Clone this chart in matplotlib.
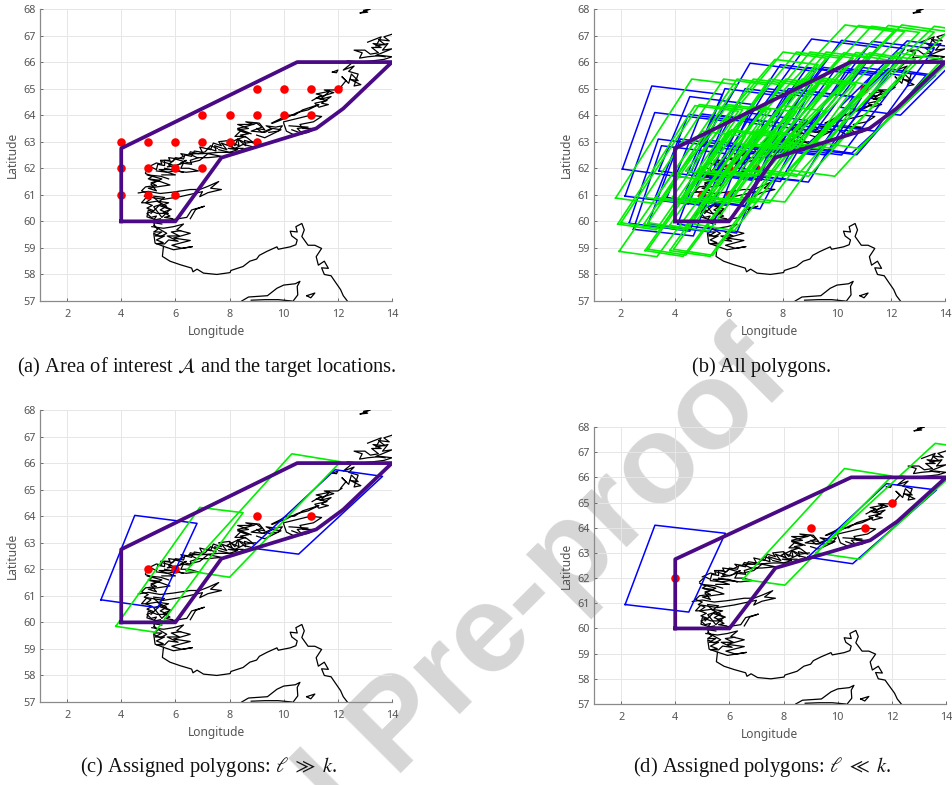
#!/usr/bin/env python3
"""Four map panels: area of interest, all polygons and two assignments."""
import matplotlib
matplotlib.use("Agg")
import matplotlib.pyplot as plt

plt.rcParams["font.family"] = ["Noto Sans", "DejaVu Sans"]
plt.rcParams["mathtext.fontset"] = "stix"

W, H = 952, 785

AREA_LON = [4, 4, 10.5, 14, 12.2, 11.2, 7.7, 6, 4]
AREA_LAT = [60, 62.75, 66, 66, 64.25, 63.5, 62.4, 60, 60]

TARGETS_A = [(9, 65), (10, 65), (11, 65), (12, 65), (7, 64), (8, 64), (9, 64), (10, 64), (11, 64),
             (4, 63), (5, 63), (6, 63), (7, 63), (8, 63), (9, 63), (4, 62), (5, 62), (6, 62), (7, 62),
             (4, 61), (5, 61), (6, 61)]
TARGETS_B = [(5, 63), (5, 61), (6, 61), (7, 62), (6, 62), (8, 63), (11, 65)]
TARGETS_C = [(5, 62), (6, 62), (9, 64), (11, 64)]
TARGETS_D = [(4, 62), (9, 64), (11, 64), (12, 65)]

# polygon corners: lower-left, upper-left, upper-right, lower-right
BLUE_C = [
    [(3.25, 60.85), (4.5, 64.03), (6.8, 63.73), (5.35, 60.55)],
    [(8.8, 62.8), (11.9, 65.75), (13.65, 65.5), (10.55, 62.57)],
]
GREEN_C = [
    [(3.8, 59.85), (6.9, 64.33), (8.5, 64.13), (5.25, 59.63)],
    [(6.4, 61.95), (10.3, 66.35), (12.1, 66.05), (8.0, 61.7)],
]
BLUE_D = [
    [(2.15, 60.95), (3.25, 64.1), (5.85, 63.78), (4.5, 60.65)],
    [(8.9, 62.83), (11.8, 65.75), (13.65, 65.5), (10.55, 62.57)],
]
GREEN_D = [
    [(6.5, 61.95), (10.25, 66.35), (12.0, 66.05), (8.05, 61.72)],
    [(9.2, 63.0), (13.6, 67.35), (15.25, 67.1), (10.8, 62.75)],
]
BLUE_ALL = [
    [(2.05, 61.97), (3.14, 65.1), (5.75, 64.78), (4.4, 61.65)],
    [(2.15, 60.95), (3.25, 64.1), (5.85, 63.78), (4.5, 60.65)],
    [(2.3, 59.93), (3.38, 63.1), (5.75, 62.8), (4.55, 59.63)],
    [(2.46, 59.7), (3.5, 62.85), (5.9, 62.55), (4.68, 59.45)],
    [(3.25, 60.85), (4.5, 64.03), (6.8, 63.73), (5.35, 60.55)],
    [(3.4, 61.9), (4.55, 64.7), (6.9, 64.4), (5.6, 61.6)],
    [(4.1, 59.9), (5.3, 63.05), (7.6, 62.75), (6.28, 59.56)],
    [(4.3, 60.9), (5.6, 64.0), (7.95, 63.7), (6.6, 60.6)],
    [(4.6, 61.85), (5.85, 65.0), (8.1, 64.7), (6.85, 61.55)],
    [(5.0, 60.8), (6.6, 64.1), (8.9, 63.8), (7.15, 60.47)],
    [(6.3, 61.8), (8.2, 65.0), (10.6, 64.7), (8.69, 61.53)],
    [(6.55, 61.75), (8.5, 64.95), (10.9, 64.65), (8.94, 61.48)],
    [(5.0, 62.85), (6.78, 65.96), (9.2, 65.65), (7.4, 62.55)],
    [(5.9, 62.85), (7.9, 65.9), (10.3, 65.6), (8.3, 62.55)],
    [(6.8, 62.8), (8.9, 65.8), (11.3, 65.5), (9.2, 62.5)],
    [(6.8, 63.7), (9.06, 66.87), (11.5, 66.55), (9.2, 63.4)],
    [(7.9, 63.7), (10.17, 66.82), (12.5, 66.5), (10.3, 63.4)],
    [(9.0, 63.7), (11.3, 66.78), (13.6, 66.5), (11.4, 63.4)],
    [(10.1, 64.3), (12.6, 66.8), (14.8, 66.5), (12.35, 64.0)],
    [(7.8, 62.8), (10.0, 65.8), (12.4, 65.5), (10.17, 62.5)],
    [(8.4, 62.8), (10.9, 65.8), (13.3, 65.5), (10.73, 62.51)],
    [(8.8, 62.8), (11.9, 65.75), (13.65, 65.5), (10.55, 62.57)],
    [(3.0, 59.9), (4.2, 63.1), (6.55, 62.8), (5.3, 59.6)],
    [(3.7, 60.9), (4.95, 64.05), (7.3, 63.75), (5.95, 60.6)],
    [(5.0, 61.85), (6.6, 65.0), (8.9, 64.7), (7.2, 61.55)],
    [(5.5, 61.8), (7.4, 65.0), (9.7, 64.7), (7.9, 61.5)],
    [(7.2, 62.8), (9.5, 65.8), (11.9, 65.5), (9.6, 62.5)],
]
GREEN_ALL = [
    [(1.93, 58.87), (5.0, 63.4), (6.6, 63.2), (3.33, 58.67)],
    [(2.89, 58.9), (6.0, 63.4), (7.6, 63.2), (4.3, 58.68)],
    [(3.81, 58.9), (6.9, 63.4), (8.5, 63.2), (5.3, 58.68)],
    [(1.88, 59.9), (4.74, 64.36), (6.35, 64.15), (3.3, 59.68)],
    [(2.85, 59.9), (5.8, 64.36), (7.4, 64.15), (4.3, 59.68)],
    [(3.8, 59.85), (6.9, 64.33), (8.5, 64.13), (5.25, 59.63)],
    [(4.7, 59.9), (8.0, 64.36), (9.6, 64.15), (6.2, 59.65)],
    [(1.8, 60.88), (4.62, 65.36), (6.3, 65.15), (3.4, 60.65)],
    [(2.9, 60.9), (5.8, 65.36), (7.4, 65.15), (4.4, 60.68)],
    [(3.9, 60.9), (6.9, 65.36), (8.5, 65.15), (5.4, 60.68)],
    [(4.9, 60.9), (8.1, 65.36), (9.7, 65.15), (6.5, 60.7)],
    [(6.45, 60.9), (9.5, 65.4), (11.2, 65.15), (8.07, 60.73)],
    [(4.4, 61.9), (8.0, 66.38), (9.6, 66.15), (6.0, 61.68)],
    [(5.4, 61.9), (9.0, 66.38), (10.6, 66.15), (7.0, 61.7)],
    [(6.45, 61.95), (10.25, 66.35), (12.05, 66.05), (8.03, 61.7)],
    [(7.4, 61.93), (11.2, 66.35), (12.9, 66.1), (8.95, 61.7)],
    [(8.2, 61.94), (12.2, 66.35), (13.9, 66.1), (9.92, 61.7)],
    [(6.2, 62.95), (10.3, 67.4), (12.1, 67.15), (7.8, 62.72)],
    [(7.2, 62.95), (11.28, 67.35), (13.05, 67.12), (8.8, 62.72)],
    [(8.2, 62.98), (12.4, 67.4), (14.1, 67.15), (9.8, 62.75)],
    [(9.2, 63.0), (13.6, 67.35), (15.25, 67.1), (10.8, 62.75)],
    [(3.0, 58.95), (6.1, 63.45), (7.7, 63.25), (4.4, 58.73)],
    [(3.95, 58.95), (7.05, 63.45), (8.65, 63.25), (5.4, 58.72)],
    [(2.0, 59.95), (4.9, 64.4), (6.5, 64.2), (3.45, 59.72)],
    [(3.0, 59.95), (5.95, 64.4), (7.55, 64.2), (4.45, 59.72)],
    [(3.3, 60.9), (6.3, 65.36), (7.9, 65.15), (4.85, 60.68)],
    [(4.4, 60.9), (7.5, 65.36), (9.1, 65.15), (5.95, 60.68)],
    [(5.4, 60.9), (8.7, 65.36), (10.3, 65.15), (7.0, 60.7)],
    [(5.9, 60.9), (9.1, 65.38), (10.7, 65.15), (7.5, 60.7)],
    [(4.0, 61.7), (7.7, 66.1), (9.3, 65.9), (5.6, 61.5)],
    [(4.9, 61.9), (8.5, 66.38), (10.1, 66.15), (6.5, 61.7)],
    [(5.9, 61.9), (9.6, 66.38), (11.2, 66.15), (7.5, 61.7)],
    [(6.9, 61.93), (10.7, 66.36), (12.4, 66.1), (8.5, 61.7)],
    [(6.7, 62.95), (10.8, 67.38), (12.5, 67.15), (8.3, 62.72)],
    [(7.7, 62.97), (11.9, 67.38), (13.6, 67.13), (9.3, 62.74)],
]

COAST_SOUTH = [(5.56, 59.06), (5.52, 58.68), (5.8, 58.5), (6.17, 58.37), (6.6, 58.24), (6.65, 58.1), (6.8, 58.2),
               (7.04, 58.05), (7.53, 58.0), (8.02, 58.07), (8.05, 58.15), (8.5, 58.3), (8.75, 58.5), (9.0, 58.58),
               (9.1, 58.72), (9.38, 58.87), (9.75, 59.04), (9.8, 58.95), (10.24, 59.04), (10.45, 59.12), (10.5, 59.3),
               (10.3, 59.45), (10.24, 59.63), (10.5, 59.6), (10.45, 59.8), (10.67, 59.92), (10.76, 59.68), (10.67, 59.43),
               (10.9, 59.1), (11.15, 59.1), (11.4, 58.98), (11.2, 58.67), (11.28, 58.35), (11.5, 58.5), (11.65, 58.23),
               (11.4, 58.25), (11.5, 58.0), (11.75, 57.95), (11.85, 57.8), (12.1, 57.43), (12.2, 57.2), (12.35, 57.0)]
COAST_DENMARK = [(8.45, 57), (8.7, 57.15), (9.4, 57.2), (9.75, 57.48), (10, 57.6), (10.43, 57.65), (10.6, 57.74),
                 (10.5, 57.55), (10.52, 57.23), (10.35, 57)]
COAST_LIMFJORD = [(8.8, 57.03), (9.3, 57.05), (9.8, 57.05), (10.3, 57.0)]
COAST_ISLAND = [(10.85, 57.2), (11.15, 57.3), (11.0, 57.12), (10.85, 57.2)]
COAST_TOP = [(12.83, 67.85), (13.2, 68), (12.95, 67.95), (13.1, 67.88), (12.83, 67.85)]
COAST_ROGALAND = [(5.13, 59.8), (5.56, 59.74), (5.93, 59.8), (6.3, 59.9), (6.05, 59.68), (6.55, 59.55), (5.93, 59.37),
                  (6.55, 59.28), (5.87, 59.1), (6.24, 58.98), (6.63, 59.05), (5.93, 58.93), (5.56, 59.06),
                  (5.25, 59.18), (5.2, 59.55), (5.44, 59.42), (5.68, 59.55), (5.25, 59.8), (5.2, 59.95), (5.5, 59.9)]
COAST_ROGALAND_2 = [(5.2, 59.85), (5.35, 59.7), (5.2, 59.6), (5.5, 59.6), (5.25, 59.45), (5.6, 59.45), (5.3, 59.3),
                    (5.55, 59.2), (5.3, 59.15), (5.6, 59.15), (5.75, 59.3), (6.1, 59.25), (5.7, 59.45), (6.15, 59.45),
                    (5.85, 59.6), (6.2, 59.65)]
COAST_SOGN = [(4.63, 61.07), (5.0, 61.13), (5.44, 61.05), (5.9, 61.1), (6.55, 61.2), (6.9, 61.2), (7.2, 61.32),
              (7.6, 61.5), (7.3, 61.25), (7.7, 61.2), (7.2, 61.08), (6.9, 60.93), (7.0, 61.12), (6.17, 60.93),
              (5.56, 60.83), (4.95, 60.93), (4.75, 60.7), (4.95, 60.7), (5.32, 60.76), (5.68, 60.57), (5.44, 60.43),
              (5.74, 60.3), (5.32, 60.3), (5.0, 60.43), (4.95, 60.17), (5.32, 60.05), (5.8, 60.05), (6.42, 60.15),
              (6.6, 60.43), (7.07, 60.57), (6.75, 60.45), (6.55, 60.1)]
COAST_FJORD_61 = [(5.07, 61.57), (5.44, 61.5), (5.8, 61.37), (5.32, 61.3), (5.0, 61.25), (5.3, 61.15), (5.1, 61.4),
                  (5.5, 61.6), (4.95, 61.75), (5.45, 61.7), (5.75, 61.6)]
COAST_FJORD_60 = [(5.2, 60.9), (5.5, 60.65), (5.2, 60.55), (5.5, 60.15), (5.8, 60.45), (5.4, 60.6), (5.1, 60.3)]
COAST_HORDALAND = [(4.9, 61.8), (5.15, 61.7), (5.0, 61.6), (5.4, 61.55), (5.1, 61.45), (5.3, 61.35), (4.9, 61.3),
                   (4.75, 61.15), (5.0, 61.05), (4.85, 60.95), (5.1, 60.85), (4.9, 60.7), (5.15, 60.6), (4.95, 60.5),
                   (5.2, 60.4), (4.95, 60.3), (5.1, 60.15), (5.3, 60.2), (5.2, 60.05), (5.45, 60.1)]
COAST_HORDALAND_2 = [(5.2, 60.95), (5.6, 60.9), (5.4, 60.75), (5.75, 60.7), (5.5, 60.6), (5.85, 60.45), (5.55, 60.35),
                     (5.8, 60.2), (5.6, 60.15), (5.9, 60.1)]
COAST_MORE = [(4.9, 61.85), (5.1, 62.05), (5.3, 61.95), (5.35, 62.15), (5.6, 62.1), (5.6, 62.3), (5.9, 62.25),
              (6.0, 62.4), (6.3, 62.35), (6.35, 62.5), (6.6, 62.45), (6.7, 62.65), (7.0, 62.6), (6.9, 62.8), (7.3, 62.7),
              (7.4, 62.95), (7.7, 62.85), (7.6, 63.0), (8.0, 63.05), (8.2, 62.85), (8.3, 63.1), (8.6, 62.95), (8.95, 63.0)]
COAST_MORE_INNER = [(5.3, 61.9), (5.7, 61.85), (6.0, 61.9), (6.4, 61.85), (6.85, 61.9), (6.5, 62.0), (6.2, 62.0),
                    (6.3, 62.2), (6.0, 62.1), (5.75, 62.15), (6.0, 62.35), (6.5, 62.2), (6.9, 62.3), (7.2, 62.55),
                    (7.7, 62.45), (7.2, 62.4), (6.8, 62.4), (6.5, 62.55), (7.0, 62.55), (7.6, 62.6), (8.2, 62.6),
                    (8.6, 62.75), (8.9, 62.8), (8.5, 62.9), (8.2, 62.75), (7.9, 62.9), (8.3, 63.1), (8.6, 63.2),
                    (8.2, 63.2), (8.4, 63.4), (8.8, 63.3), (8.3, 63.5), (8.7, 63.6), (9.0, 63.7), (9.2, 63.55),
                    (8.8, 63.4), (9.3, 63.35), (9.6, 63.5), (9.9, 63.45), (9.6, 63.3), (9.3, 63.15), (9.0, 63.25)]
COAST_MORE_2 = [(5.0, 62.05), (5.3, 62.2), (5.5, 62.15), (5.45, 62.3), (5.8, 62.3), (5.75, 62.4), (6.1, 62.35),
                (6.3, 62.45), (6.2, 62.55), (6.5, 62.5), (6.55, 62.62), (6.85, 62.55), (7.1, 62.62), (7.3, 62.85),
                (7.55, 62.75)]
COAST_MORE_3 = [(5.5, 62.25), (5.85, 62.15), (5.7, 62.05), (6.05, 62.1), (6.4, 62.3), (6.2, 62.2), (6.6, 62.15),
                (6.55, 62.3), (6.85, 62.4)]
COAST_MORE_4 = [(5.6, 62.0), (6.3, 61.85), (5.95, 61.95), (5.4, 61.95), (6.0, 61.75), (5.5, 61.75)]
COAST_TROMS = [(7.2, 62.75), (7.5, 62.65), (7.45, 62.85), (7.9, 62.7), (7.7, 62.95), (8.1, 62.8), (8.0, 63.0),
               (8.35, 62.85), (8.3, 63.1), (8.6, 62.85), (8.55, 63.05), (8.9, 62.95), (8.65, 63.15), (8.4, 63.25),
               (8.7, 63.3), (8.3, 63.45), (8.7, 63.5), (8.3, 63.65), (8.9, 63.65), (8.6, 63.75), (9.1, 63.7),
               (9.3, 63.45), (9.0, 63.5), (9.2, 63.35), (9.55, 63.5), (9.35, 63.6), (9.7, 63.55), (9.95, 63.6),
               (9.8, 63.4), (9.45, 63.35)]
COAST_TROMS_2 = [(7.6, 62.7), (8.0, 62.6), (8.3, 62.7), (7.95, 62.75), (8.5, 62.75)]
COAST_TRONDELAG = [(9.55, 63.7), (9.85, 63.85), (10.1, 64.0), (10.4, 64.0), (10.7, 64.2), (11.0, 64.3), (11.3, 64.4),
                   (10.9, 64.2), (10.5, 64.1), (10.1, 63.9), (9.6, 63.7)]
COAST_TRONDELAG_2 = [(10.0, 63.7), (10.1, 63.4), (10.4, 63.25), (10.9, 63.35), (11.2, 63.5), (10.7, 63.5), (10.6, 63.65),
                     (11.1, 63.75), (11.4, 63.95), (11.0, 64.0), (10.6, 63.9), (10.0, 63.75)]
COAST_TRONDELAG_3 = [(10.3, 63.45), (10.7, 63.3), (10.5, 63.5), (10.9, 63.55), (10.2, 63.6)]
COAST_VIKNA = [(11.05, 64.55), (11.4, 64.75), (11.2, 64.8), (11.7, 64.9), (11.35, 64.6), (11.75, 64.7), (11.4, 64.45),
               (11.65, 64.4), (11.3, 64.3), (11.15, 64.45), (11.6, 64.55), (11.2, 64.65), (11.85, 64.85), (11.5, 64.95),
               (12, 64.95), (12.15, 65.05)]
COAST_HELGELAND = [(12.1, 65.05), (12.3, 65.3), (12.15, 65.45), (12.4, 65.2), (12.5, 65.55), (12.75, 65.3), (12.45, 65.35),
                   (12.85, 65.15), (12.6, 65.1), (12.75, 65.55), (12.4, 65.65), (12.6, 65.85), (12.2, 65.7), (12.5, 65.95)]
COAST_ISLET = [(11.8, 65.62), (12.0, 65.7), (11.95, 65.6), (11.8, 65.62)]
COAST_NORDLAND = [(12.35, 66.05), (12.8, 66.0), (13.3, 66.05), (13.7, 66.1), (14, 66.2), (13.6, 66.25), (13.1, 66.2),
                  (12.8, 66.15), (12.9, 66.35), (12.6, 66.45), (13.0, 66.45), (13.2, 66.3), (13.5, 66.35), (13.25, 66.55),
                  (13.6, 66.55), (13.3, 66.7), (13.75, 66.65), (13.5, 66.85), (13.9, 66.8), (13.7, 66.95), (14, 67.05)]
COAST_NORDLAND_2 = [(13.1, 66.75), (13.6, 66.95), (13.4, 66.6), (13.85, 66.7), (13.65, 66.45), (14, 66.5), (13.4, 66.25),
                    (13.75, 66.2)]

CAPTIONS = ["(a) Area of interest $\\mathcal{A}$ and the target locations.",
            "(b) All polygons.",
            "(c) Assigned polygons: $\\ell\\ \\gg\\ k$.",
            "(d) Assigned polygons: $\\ell\\ \\ll\\ k$."]
PANEL_BOXES = [(40, 9, 392, 301), (594, 9, 945, 301), (40, 410, 392, 702), (594, 427, 946, 704)]
CAPTION_POS = [(207, 367), (762, 367), (208, 767), (762, 767)]

COAST_PARTS = [COAST_SOUTH, COAST_DENMARK, COAST_LIMFJORD, COAST_ISLAND, COAST_TOP, COAST_ROGALAND, COAST_ROGALAND_2,
               COAST_SOGN, COAST_FJORD_61, COAST_FJORD_60, COAST_HORDALAND, COAST_HORDALAND_2, COAST_MORE,
               COAST_MORE_INNER, COAST_MORE_2, COAST_MORE_3, COAST_MORE_4, COAST_TROMS, COAST_TROMS_2,
               COAST_TRONDELAG, COAST_TRONDELAG_2, COAST_TRONDELAG_3, COAST_VIKNA, COAST_HELGELAND, COAST_ISLET,
               COAST_NORDLAND, COAST_NORDLAND_2]


def draw_panel(fig, box, targets, blue, green):
    left, top, right, bottom = box
    ax = fig.add_axes([left / W, 1 - bottom / H, (right - left) / W, (bottom - top) / H])
    ax.set_facecolor("none")
    for part in COAST_PARTS:
        ax.plot([p[0] for p in part], [p[1] for p in part], color="black", lw=0.9)
    ax.scatter([t[0] for t in targets], [t[1] for t in targets], s=38, color="#ff0000", zorder=3, linewidths=0)
    for poly in blue:
        closed = poly + poly[:1]
        ax.plot([p[0] for p in closed], [p[1] for p in closed], color="#0000ff", lw=1.1, zorder=4)
    for poly in green:
        closed = poly + poly[:1]
        ax.plot([p[0] for p in closed], [p[1] for p in closed], color="#00f000", lw=1.2, zorder=5)
    ax.plot(AREA_LON, AREA_LAT, color="#4b0a85", lw=2.7, zorder=6, solid_joinstyle="round")

    ax.set_xlim(1, 14)
    ax.set_ylim(57, 68)
    ax.set_xticks(range(2, 15, 2))
    ax.set_yticks(range(57, 69))
    ax.grid(color="#e6e6e6", lw=0.7)
    ax.set_axisbelow(True)
    ax.tick_params(length=2, width=0.6, direction="in", colors="#555555", labelsize=7.8)
    ax.tick_params(axis="x", pad=6)
    ax.tick_params(axis="y", pad=3)
    for s in ["top", "right"]:
        ax.spines[s].set_visible(False)
    for s in ["left", "bottom"]:
        ax.spines[s].set_color("#8a8a8a")
        ax.spines[s].set_linewidth(0.9)
    ax.set_xlabel("Longitude", fontsize=8.6, color="#555555", labelpad=3.5)
    ax.set_ylabel("Latitude", fontsize=8.6, color="#555555", labelpad=3.5)
    return ax


def main():
    fig = plt.figure(figsize=(W / 100, H / 100), dpi=100)
    fig.text(422 / W, 1 - 752 / H, "Journal Pre-proof", fontsize=90, fontweight="bold", color="#d6d6d6", rotation=45,
             ha="center", va="baseline", rotation_mode="anchor", family="Liberation Sans", zorder=-1)

    draw_panel(fig, PANEL_BOXES[0], TARGETS_A, [], [])
    draw_panel(fig, PANEL_BOXES[1], TARGETS_B, BLUE_ALL, GREEN_ALL)
    draw_panel(fig, PANEL_BOXES[2], TARGETS_C, BLUE_C, GREEN_C)
    draw_panel(fig, PANEL_BOXES[3], TARGETS_D, BLUE_D, GREEN_D)

    for cap, pos in zip(CAPTIONS, CAPTION_POS):
        fig.text(pos[0] / W, 1 - pos[1] / H, cap, fontsize=14.8, family="Liberation Serif", color="#111111",
                 ha="center", va="center")
    fig.savefig("out.png", dpi=100)


if __name__ == "__main__":
    main()
